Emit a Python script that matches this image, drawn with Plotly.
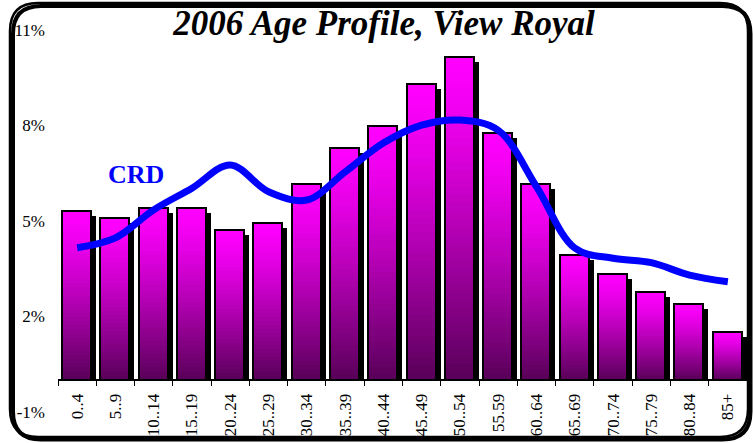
import plotly.graph_objects as go

categories = ["0..4", "5..9", "10..14", "15..19", "20..24", "25..29", "30..34", "35..39",
              "40..44", "45..49", "50..54", "55.59", "60..64", "65..69", "70..74", "75..79",
              "80..84", "85+"]
view_royal = [5.31, 5.11, 5.42, 5.42, 4.72, 4.95, 6.15, 7.30, 7.99, 9.29, 10.15, 7.76,
              6.15, 3.93, 3.35, 2.78, 2.39, 1.52]
crd = [4.16, 4.47, 5.35, 6.03, 6.76, 5.92, 5.66, 6.54, 7.45, 8.01, 8.17, 7.85,
       6.08, 4.15, 3.83, 3.69, 3.30, 3.09]
y_ticks = [-1, 2, 5, 8, 11]
y_tick_labels = ["-1%", "2%", "5%", "8%", "11%"]

W, H = 753, 443
ML, MR, MT, MB = 58, 6, 30, 31
PW, PH = W - ML - MR, H - MT - MB
SLOT = PW / len(categories)
BAR_W = 29 / SLOT
BAR_OFF = -0.5 + 4 / SLOT
SH_DX = 5 / SLOT
SH_DY = 5 / (PH / 12.0)

fig = go.Figure()

# shadow
fig.add_trace(go.Bar(x=categories, y=[v - SH_DY for v in view_royal], width=BAR_W,
                     offset=BAR_OFF + SH_DX, marker=dict(color="black", line=dict(width=0)),
                     hoverinfo="skip", showlegend=False))

# gradient bars (overlaid decreasing heights)
N = 40
top = (255, 0, 255)
bot = (90, 0, 90)
for k in range(N):
    f = (k / (N - 1)) ** 1.25
    c = tuple(int(round(top[i] + (bot[i] - top[i]) * f)) for i in range(3))
    fig.add_trace(go.Bar(x=categories, y=[v * (N - k) / N for v in view_royal], width=BAR_W,
                         offset=BAR_OFF, marker=dict(color="rgb(%d,%d,%d)" % c, line=dict(width=0)),
                         hoverinfo="skip", showlegend=False))

# outline
fig.add_trace(go.Bar(x=categories, y=view_royal, width=BAR_W, offset=BAR_OFF,
                     marker=dict(color="rgba(0,0,0,0)", line=dict(color="black", width=2)),
                     name="View Royal", showlegend=False))

fig.add_trace(go.Scatter(x=categories, y=crd, mode="lines", name="CRD",
                         line=dict(color="#0000FF", width=7, shape="spline", smoothing=1.0),
                         showlegend=False))


def px2paper(px, py):
    return (px - ML) / PW, (H - MB - py) / PH


def rounded_path(x0, y0, x1, y1, r):
    def P(x, y):
        a, b = px2paper(x, y)
        return "%.5f,%.5f" % (a, b)
    s = "M " + P(x0 + r, y0)
    s += " L " + P(x1 - r, y0)
    s += " Q " + P(x1, y0) + " " + P(x1, y0 + r)
    s += " L " + P(x1, y1 - r)
    s += " Q " + P(x1, y1) + " " + P(x1 - r, y1)
    s += " L " + P(x0 + r, y1)
    s += " Q " + P(x0, y1) + " " + P(x0, y1 - r)
    s += " L " + P(x0, y0 + r)
    s += " Q " + P(x0, y0) + " " + P(x0 + r, y0) + " Z"
    return s


shapes = [
    dict(type="path", xref="paper", yref="paper", path=rounded_path(13, 6, 750.5, 439.5, 28),
         line=dict(color="black", width=4), layer="above"),
    dict(type="path", xref="paper", yref="paper", path=rounded_path(10, 3, 748, 437, 28),
         line=dict(color="black", width=2.5), layer="above"),
]

fig.update_layout(
    width=W, height=H,
    margin=dict(l=ML, r=MR, t=MT, b=MB, autoexpand=False),
    paper_bgcolor="white", plot_bgcolor="white",
    barmode="overlay",
    bargap=0,
    showlegend=False,
    title=dict(text="<b><i>2006 Age Profile, View Royal</i></b>", x=384 / W, xanchor="center",
               y=1 - 23 / H, yanchor="middle", yref="container",
               font=dict(family="Liberation Serif", size=35, color="black")),
    xaxis=dict(type="category", categoryorder="array", categoryarray=categories,
               range=[-0.5, len(categories) - 0.5], anchor="free",
               position=1.0 / 12.0, automargin=False,
               showline=True, linecolor="black", linewidth=1.5,
               ticks="outside", tickson="boundaries", ticklen=5, tickcolor="black", tickwidth=1,
               tickangle=-90, showgrid=False, zeroline=False, ticklabelstandoff=6,
               tickfont=dict(family="Liberation Serif", size=17, color="black")),
    yaxis=dict(range=[-1, 11], tickvals=y_ticks, ticktext=y_tick_labels, showgrid=False,
               zeroline=False, showline=False, ticks="", ticklabelstandoff=12, automargin=False,
               tickfont=dict(family="Liberation Serif", size=17, color="black")),
    shapes=shapes,
    annotations=[dict(text="<b>CRD</b>", xref="paper", yref="paper",
                      x=px2paper(135.5, 174.5)[0], y=px2paper(135.5, 174.5)[1],
                      xanchor="center", yanchor="middle", showarrow=False,
                      font=dict(family="Liberation Serif", size=26, color="#0000FF"))],
)

fig.write_html("out.html", config={"displayModeBar": False},
               post_script="document.body.style.margin='0';")
